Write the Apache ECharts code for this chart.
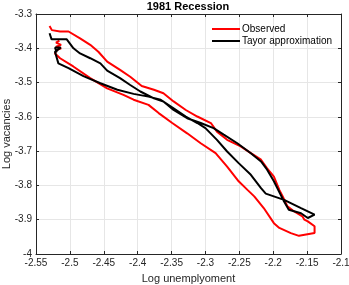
<!DOCTYPE html>
<html><head><meta charset="utf-8">
<script src="https://cdn.jsdelivr.net/npm/echarts@6/dist/echarts.min.js"></script>
<style>html,body{margin:0;padding:0;background:#fff}#c{width:349px;height:285px}</style>
</head><body><div id="c"></div>
<script>
const obsU = [-2.530,-2.5266,-2.5145,-2.502,-2.485,-2.470,-2.458,-2.445,-2.426,-2.411,-2.394,-2.376,-2.362,-2.347,-2.329,-2.312,-2.292,-2.283,-2.268,-2.248,-2.233,-2.218,-2.209,-2.199,-2.191,-2.186,-2.179,-2.169,-2.157,-2.154,-2.149,-2.139,-2.139,-2.162,-2.174,-2.191,-2.199,-2.214,-2.228,-2.238,-2.251,-2.268,-2.285,-2.307,-2.327,-2.349,-2.369,-2.384,-2.406,-2.421,-2.445,-2.470,-2.495,-2.5145,-2.522,-2.5194,-2.513,-2.5204,-2.513,-2.5204,-2.5155];
const obsV = [-3.335,-3.347,-3.351,-3.351,-3.371,-3.390,-3.410,-3.439,-3.463,-3.483,-3.510,-3.521,-3.531,-3.555,-3.580,-3.599,-3.618,-3.643,-3.667,-3.686,-3.706,-3.725,-3.750,-3.774,-3.813,-3.832,-3.861,-3.876,-3.890,-3.900,-3.905,-3.919,-3.939,-3.947,-3.939,-3.924,-3.910,-3.866,-3.832,-3.813,-3.788,-3.745,-3.706,-3.677,-3.648,-3.618,-3.589,-3.565,-3.550,-3.536,-3.517,-3.487,-3.453,-3.429,-3.415,-3.405,-3.400,-3.395,-3.390,-3.3835,-3.3777];
const tayU = [-2.530,-2.527,-2.5046,-2.4947,-2.485,-2.470,-2.455,-2.445,-2.426,-2.411,-2.396,-2.376,-2.362,-2.347,-2.327,-2.307,-2.288,-2.273,-2.253,-2.233,-2.218,-2.209,-2.199,-2.189,-2.184,-2.177,-2.159,-2.149,-2.139,-2.159,-2.184,-2.211,-2.218,-2.233,-2.251,-2.268,-2.283,-2.300,-2.312,-2.329,-2.347,-2.366,-2.384,-2.406,-2.430,-2.455,-2.480,-2.502,-2.517,-2.522,-2.5135,-2.5219,-2.5194];
const tayV = [-3.356,-3.374,-3.374,-3.400,-3.415,-3.429,-3.444,-3.465,-3.487,-3.507,-3.526,-3.546,-3.555,-3.580,-3.604,-3.618,-3.633,-3.652,-3.677,-3.706,-3.730,-3.754,-3.788,-3.827,-3.847,-3.871,-3.881,-3.895,-3.885,-3.866,-3.842,-3.824,-3.808,-3.769,-3.735,-3.701,-3.667,-3.633,-3.618,-3.599,-3.575,-3.550,-3.541,-3.533,-3.521,-3.502,-3.481,-3.458,-3.444,-3.410,-3.398,-3.398,-3.4117];
const seriesNames = ['Observed','Tayor approximation'];
const titleText = '1981 Recession';
const xName = 'Log unemplyoment';
const yName = 'Log vacancies';

const font = 'Liberation Sans, Arial, sans-serif';
const zip = (a,b)=>a.map((v,i)=>[v,b[i]]);
const axisCommon = {
  axisLine:{lineStyle:{color:'#262626',width:1}},
  axisTick:{inside:true,length:3,lineStyle:{color:'#262626'}},
  axisLabel:{color:'#262626',fontSize:10,fontFamily:font},
  splitLine:{show:true,lineStyle:{color:'#e6e6e6',width:1}}
};
const chart = echarts.init(document.getElementById('c'),null,{renderer:'canvas'});
chart.setOption({
  animation:false,
  backgroundColor:'#fff',
  title:{text:titleText,left:188,textAlign:'center',top:1,padding:0,textStyle:{fontSize:11,fontWeight:'bold',color:'#000',fontFamily:font}},
  legend:{orient:'vertical',left:212,top:24,padding:0,itemWidth:28,itemHeight:2,itemGap:2,icon:'rect',
    textStyle:{fontSize:10,color:'#000',fontFamily:font,padding:[0,0,0,-3]},data:seriesNames},
  grid:{left:36,right:8,top:14,bottom:31,containLabel:false,outerBoundsMode:'none'},
  xAxis:[
    Object.assign({},axisCommon,{type:'value',min:-2.55,max:-2.1,interval:0.05,position:'bottom',
      name:xName,nameLocation:'middle',nameGap:19,nameMoveOverlap:false,nameTextStyle:{fontSize:11,color:'#262626',fontFamily:font},
      axisLabel:Object.assign({},axisCommon.axisLabel,{margin:4,formatter:v=>(+v.toFixed(2)).toString()})}),
    {type:'value',min:-2.55,max:-2.1,interval:0.05,position:'top',axisLine:{lineStyle:{color:'#262626'}},
      axisTick:{inside:true,length:3,lineStyle:{color:'#262626'}},axisLabel:{show:false},splitLine:{show:false}}
  ],
  yAxis:[
    Object.assign({},axisCommon,{type:'value',min:-4,max:-3.3,interval:0.1,position:'left',
      name:yName,nameLocation:'middle',nameGap:24,nameMoveOverlap:false,nameTextStyle:{fontSize:11,color:'#262626',fontFamily:font},
      axisLabel:Object.assign({},axisCommon.axisLabel,{margin:4,formatter:v=>(+v.toFixed(1)).toString()})}),
    {type:'value',min:-4,max:-3.3,interval:0.1,position:'right',axisLine:{show:true,lineStyle:{color:'#262626'}},
      axisTick:{show:true,inside:true,length:3,lineStyle:{color:'#262626'}},axisLabel:{show:false},splitLine:{show:false}}
  ],
  series:[
    {name:seriesNames[0],type:'line',data:zip(obsU,obsV),showSymbol:false,symbol:'none',smooth:false,
      lineStyle:{color:'#ff0000',width:2},itemStyle:{color:'#ff0000'},z:2},
    {name:seriesNames[1],type:'line',data:zip(tayU,tayV),showSymbol:false,symbol:'none',smooth:false,
      lineStyle:{color:'#000000',width:2},itemStyle:{color:'#000000'},z:3}
  ]
});
</script></body></html>
